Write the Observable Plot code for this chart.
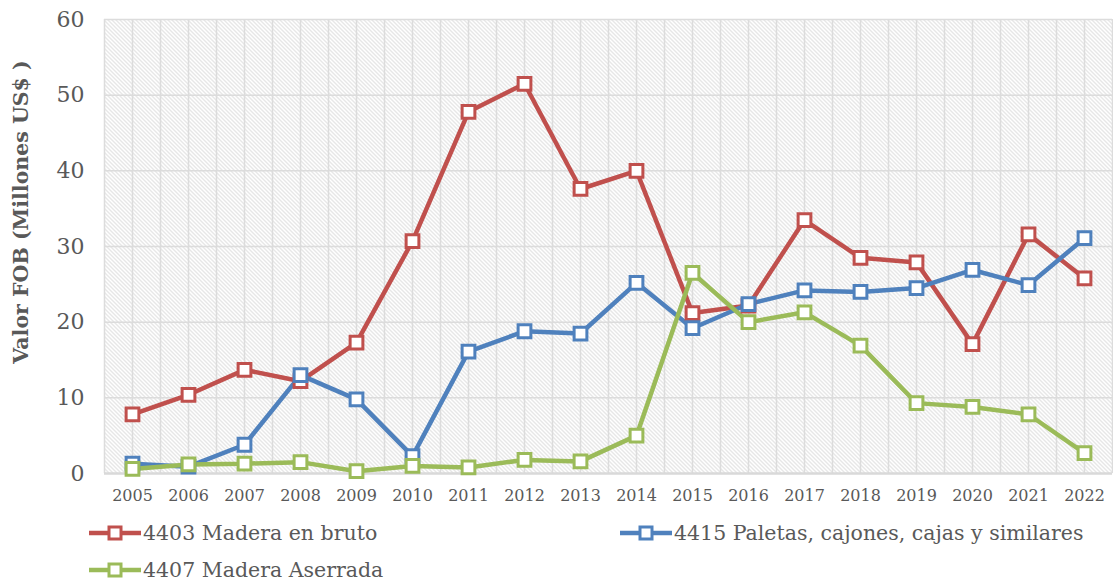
<!DOCTYPE html>
<html><head><meta charset="utf-8">
<script src="https://cdn.jsdelivr.net/npm/d3@7"></script>
<script src="https://cdn.jsdelivr.net/npm/@observablehq/plot@0.6"></script>
<style>
body{margin:0;background:#fff;font-family:"DejaVu Serif",serif;}
#legend{position:relative;height:76px;width:1113px;}
.item{position:absolute;display:flex;align-items:center;height:22px;line-height:22px;font-size:20.5px;color:#595959;white-space:nowrap;}
.item svg{margin-right:1px;}
</style></head><body><div id="chart"></div><div id="legend"></div>
<script>
const years = [2005,2006,2007,2008,2009,2010,2011,2012,2013,2014,2015,2016,2017,2018,2019,2020,2021,2022];
const seriesNames = ["4403 Madera en bruto","4415 Paletas, cajones, cajas y similares","4407 Madera Aserrada"];
const colors = ["#C0504D","#4F81BD","#9BBB59"];
const madera4403 = [7.8,10.4,13.7,12.2,17.3,30.7,47.8,51.5,37.6,40.0,21.2,22.2,33.5,28.5,27.9,17.1,31.6,25.8];
const paletas4415 = [1.3,0.9,3.8,13.0,9.8,2.3,16.1,18.8,18.5,25.2,19.2,22.4,24.2,24.0,24.5,26.9,24.9,31.1];
const aserrada4407 = [0.6,1.2,1.3,1.5,0.3,1.0,0.8,1.8,1.6,5.0,26.5,20.0,21.3,16.9,9.3,8.8,7.8,2.7];
const yTicks = [0,10,20,30,40,50,60];
const yTitle = "Valor FOB (Millones US$ )";

const seriesValues = [madera4403, paletas4415, aserrada4407];
const data = [];
seriesValues.forEach((vals, s) => vals.forEach((v, i) => data.push({year: years[i], value: v, series: seriesNames[s]})));
const vGrid = d3.range(years[0] - 0.5, years[years.length-1] + 0.75, 0.5);

const chart = Plot.plot({
  width: 1113, height: 505,
  marginTop: 19, marginBottom: 32, marginLeft: 104, marginRight: 1,
  style: {fontFamily: "'DejaVu Serif', serif", color: "#595959", background: "white"},
  x: {domain: [years[0]-0.5, years[years.length-1]+0.5], ticks: years, tickFormat: d => String(d)},
  y: {domain: [0, 60], ticks: yTicks},
  color: {domain: seriesNames, range: colors},
  marks: [
    Plot.frame({fill: "url(#hatch)", stroke: null}),
    Plot.ruleX(vGrid, {stroke: "#dcdcdc", strokeWidth: 1.5}),
    Plot.ruleY(yTicks.filter(d => d > 0), {stroke: "#dcdcdc", strokeWidth: 1.5}),
    Plot.ruleY([0], {stroke: "#d9d9d9", strokeWidth: 2.5}),
    Plot.axisY({ticks: yTicks, tickSize: 0, tickPadding: 20, fontSize: 22, label: null, fill: "#595959"}),
    Plot.axisX({ticks: years, tickSize: 0, tickPadding: 16, fontSize: 16, label: null, fill: "#595959", tickFormat: d => String(d)}),
    Plot.line(data, {x: "year", y: "value", stroke: "series", strokeWidth: 4.5, strokeLinejoin: "miter"}),
    Plot.dot(data, {x: "year", y: "value", stroke: "series", symbol: "square", r: 7.2, fill: "white", strokeWidth: 3})
  ]
});

const svg = d3.select(chart);
const defs = svg.insert("defs", ":first-child");
const pat = defs.append("pattern").attr("id", "hatch").attr("patternUnits", "userSpaceOnUse")
  .attr("width", 4).attr("height", 4);
pat.append("rect").attr("width", 4).attr("height", 4).attr("fill", "#ffffff");
pat.append("path").attr("d", "M-1,-1 L5,5 M-1,3 L1,5 M3,-1 L5,1").attr("stroke", "#cfcfcf").attr("stroke-width", 1);
svg.append("text").attr("transform", "translate(28,212) rotate(-90)").attr("text-anchor", "middle")
  .attr("font-size", 20.5).attr("font-weight", "bold").attr("fill", "#595959").text(yTitle);
document.getElementById("chart").appendChild(chart);

const legend = document.getElementById("legend");
const pos = [[88, 17], [619, 17], [88, 54]];
seriesNames.forEach((name, i) => {
  const div = document.createElement("div");
  div.className = "item";
  div.style.left = pos[i][0] + "px";
  div.style.top = pos[i][1] + "px";
  div.innerHTML = `<svg width="54" height="20"><line x1="1" y1="10" x2="53" y2="10" stroke="${colors[i]}" stroke-width="4.5"/><rect x="21" y="4" width="12" height="12" fill="white" stroke="${colors[i]}" stroke-width="3"/></svg>`;
  const span = document.createElement("span");
  span.textContent = name;
  div.appendChild(span);
  legend.appendChild(div);
});
</script></body></html>
